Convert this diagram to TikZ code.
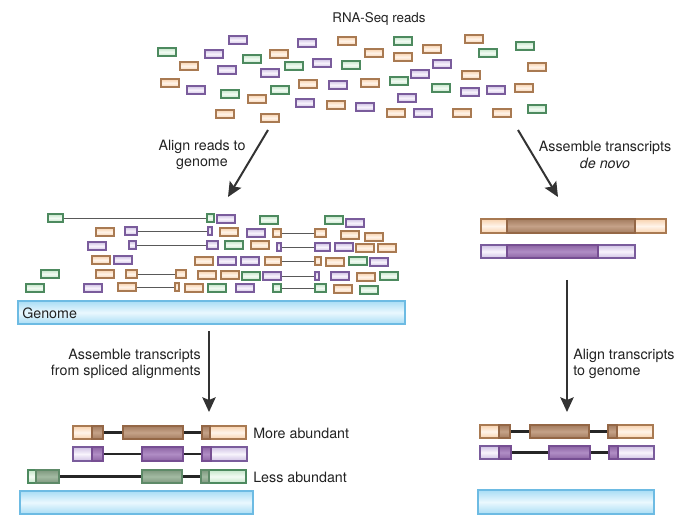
\documentclass[tikz,border=0pt]{standalone}
\usepackage{fontspec}
\setmainfont{TeX Gyre Heros}
\usetikzlibrary{arrows.meta}
\definecolor{oB}{HTML}{A97A52}
\definecolor{oL}{HTML}{F8D2AE}
\definecolor{oW}{HTML}{FFF4EA}
\definecolor{oD}{HTML}{B68A6A}
\definecolor{oDB}{HTML}{946746}
\definecolor{pB}{HTML}{7A5C9C}
\definecolor{pL}{HTML}{CFC1E4}
\definecolor{pW}{HTML}{F8F4FC}
\definecolor{pD}{HTML}{9C70B6}
\definecolor{pDB}{HTML}{764E92}
\definecolor{gB}{HTML}{4D8A5F}
\definecolor{gL}{HTML}{C4E5C9}
\definecolor{gW}{HTML}{F3FBF4}
\definecolor{gD}{HTML}{8CA98C}
\definecolor{gDB}{HTML}{5E8A68}
\definecolor{bB}{HTML}{6DBBE3}
\definecolor{bL}{HTML}{A9DDF5}
\definecolor{bW}{HTML}{EAF8FE}
\definecolor{txt}{HTML}{222222}
\definecolor{arr}{HTML}{333333}
\tikzset{
  x=0.75pt, y=-0.75pt,
  rdO/.style={draw=oB, line width=0.9pt, top color=oL, bottom color=oL, middle color=oW},
  rdP/.style={draw=pB, line width=0.9pt, top color=pL, bottom color=pL, middle color=pW},
  rdG/.style={draw=gB, line width=0.9pt, top color=gL, bottom color=gL, middle color=gW},
  dkO/.style={draw=oDB, line width=0.8pt, top color=oD!90!black, bottom color=oD!90!black, middle color=oD!80!white},
  dkP/.style={draw=pDB, line width=0.8pt, top color=pD!90!black, bottom color=pD!90!black, middle color=pD!80!white},
  dkG/.style={draw=gDB, line width=0.8pt, top color=gD!90!black, bottom color=gD!90!black, middle color=gD!80!white},
  gen/.style={draw=bB, line width=0.8pt, top color=bL, bottom color=bL, middle color=bW},
  spl/.style={draw=black!65, line width=0.6pt},
  intr/.style={draw=black!85, line width=1.8pt},
  bigarrow/.style={draw=arr, line width=1.5pt, -{Stealth[length=11pt,width=10pt,inset=2pt]}},
  lbl/.style={text=txt, font=\fontsize{10.7}{12.5}\selectfont, inner sep=0pt},
}
\newcommand\rO[2]{\path[rdO] (#1,#2) rectangle ++(18,8);}
\newcommand\rP[2]{\path[rdP] (#1,#2) rectangle ++(18,8);}
\newcommand\rG[2]{\path[rdG] (#1,#2) rectangle ++(18,8);}
% spliced read: style, x1, w1, x2, w2, y
\newcommand\splr[6]{%
  \coordinate (sa) at ({#2+#3},{#6+4});
  \coordinate (sb) at (#4,{#6+4});
  \draw[spl] (sa) -- (sb);
  \path[#1] (#2,#6) rectangle ++(#3,8);
  \path[#1] (#4,#6) rectangle ++(#5,8);}
\begin{document}
\begin{tikzpicture}
\useasboundingbox (0,0) rectangle (694,528);
% ---------- top reads ----------
\node[lbl, font=\fontsize{10}{12}\selectfont] (title) at (379,19) {RNA-Seq reads};
\rP{229}{36} \rG{158}{48} \rP{205}{50} \rG{243}{55} \rO{270}{50} \rP{298}{39}
\rO{338}{37} \rO{180}{62} \rP{218}{66} \rP{261}{69} \rG{285}{62} \rP{313}{59}
\rG{342}{61} \rO{161}{79} \rP{187}{86} \rG{221}{90} \rO{248}{95} \rG{271}{86}
\rO{299}{80} \rP{329}{81} \rO{216}{110} \rO{261}{114} \rP{296}{99} \rO{327}{101}
\rG{394}{37} \rO{465}{35} \rG{516}{42} \rO{365}{49} \rO{394}{53} \rO{423}{45}
\rG{479}{49} \rP{433}{60} \rP{411}{70} \rO{528}{63} \rO{462}{71} \rO{361}{79}
\rG{390}{77} \rG{432}{84} \rP{461}{88} \rP{487}{86} \rO{515}{84} \rP{398}{94}
\rP{356}{103} \rO{387}{109} \rP{414}{109} \rO{453}{109} \rO{493}{109} \rG{528}{105}
% ---------- arrows from reads ----------
\coordinate (a1s) at (268,130); \coordinate (a1e) at (228,197);
\coordinate (a2s) at (518,130); \coordinate (a2e) at (558,197);
\draw[bigarrow] (a1s) -- (a1e);
\draw[bigarrow] (a2s) -- (a2e);
\node[lbl, align=center] (l1) at (202,155) {Align reads to\\genome};
\node[lbl, align=center] (l2) at (605,155) {Assemble transcripts\\\textit{de novo}};
% ---------- aligned reads ----------
% row 1
\splr{rdG}{48}{15}{207}{7}{214}
\rP{217}{215} \rG{260}{216} \rG{325}{216} \rP{346}{219}
% row 2
\rO{96}{228}
\splr{rdP}{125}{12}{208}{4}{227}
\rO{220}{228} \rP{247}{229}
\splr{rdO}{273}{8}{315}{11}{229}
\rO{341}{231} \rO{365}{233}
% row 3
\rP{88}{242}
\splr{rdP}{129}{7}{207}{11}{241}
\rG{225}{241} \rO{251}{241}
\splr{rdP}{277}{4}{315}{15}{243}
\rP{335}{243} \rO{356}{244} \rO{378}{244}
% row 4
\rO{92}{256} \rP{114}{256} \rO{195}{257} \rP{218}{257} \rP{241}{257}
\splr{rdO}{265}{16}{315}{6}{257}
\rO{326}{258} \rG{349}{257} \rP{370}{258}
% row 5
\rG{41}{270} \rO{96}{270}
\splr{rdO}{126}{11}{176}{10}{270}
\rO{198}{271} \rO{221}{271} \rG{242}{272}
\splr{rdP}{263}{18}{315}{4}{272}
\rP{331}{272} \rO{357}{273} \rG{380}{272}
% row 6
\rG{26}{284} \rP{84}{284}
\splr{rdO}{118}{18}{175}{4}{283}
\rO{185}{284} \rG{208}{284} \rP{236}{284}
\splr{rdG}{273}{8}{315}{11}{284}
\rO{334}{285} \rG{360}{286}
% genome bar
\path[gen] (18,301) rectangle (405,324);
\node[lbl, anchor=west] (genome) at (22,313) {Genome};
% ---------- de novo transcripts ----------
\path[rdO] (481,219) rectangle (666,233);
\path[dkO] (507,219) rectangle (635,233);
\path[rdP] (481,245) rectangle (635,258);
\path[dkP] (507,245) rectangle (598,258);
% ---------- vertical arrows ----------
\coordinate (a3s) at (209,331); \coordinate (a3e) at (209,412);
\coordinate (a4s) at (567,280); \coordinate (a4e) at (567,412);
\draw[bigarrow] (a3s) -- (a3e);
\draw[bigarrow] (a4s) -- (a4e);
\node[lbl, align=right, anchor=east] (l3) at (201,364) {Assemble transcripts\\from spliced alignments};
\node[lbl, align=left, anchor=west] (l4) at (573,364) {Align transcripts\\to genome};
% ---------- bottom left transcripts ----------
% orange
\coordinate (o1a) at (103,432.5); \coordinate (o1b) at (123,432.5);
\coordinate (o1c) at (183,432.5); \coordinate (o1d) at (202,432.5);
\draw[intr] (o1a) -- (o1b); \draw[intr] (o1c) -- (o1d);
\path[rdO] (73,426) rectangle (103,439); \path[dkO] (92,426) rectangle (103,439);
\path[dkO] (123,426) rectangle (183,439);
\path[rdO] (202,426) rectangle (246,439); \path[dkO] (202,426) rectangle (210,439);
\node[lbl, anchor=west] (more) at (253,433) {More abundant};
% purple
\coordinate (p1a) at (103,454); \coordinate (p1b) at (142,454);
\coordinate (p1c) at (183,454); \coordinate (p1d) at (202,454);
\draw[intr] (p1a) -- (p1b); \draw[intr] (p1c) -- (p1d);
\path[rdP] (73,447) rectangle (103,461); \path[dkP] (92,447) rectangle (103,461);
\path[dkP] (142,447) rectangle (183,461);
\path[rdP] (202,447) rectangle (247,461); \path[dkP] (202,447) rectangle (211,461);
% green
\coordinate (g1a) at (59,476.5); \coordinate (g1b) at (142,476.5);
\coordinate (g1c) at (182,476.5); \coordinate (g1d) at (201,476.5);
\draw[intr] (g1a) -- (g1b); \draw[intr] (g1c) -- (g1d);
\path[rdG] (28,470) rectangle (59,483); \path[dkG] (36,470) rectangle (59,483);
\path[dkG] (142,470) rectangle (182,483);
\path[rdG] (201,470) rectangle (246,483); \path[dkG] (201,470) rectangle (209,483);
\node[lbl, anchor=west] (less) at (253,477) {Less abundant};
\path[gen] (20,491) rectangle (253,514);
% ---------- bottom right transcripts ----------
\coordinate (o2a) at (510,431.5); \coordinate (o2b) at (530,431.5);
\coordinate (o2c) at (589,431.5); \coordinate (o2d) at (608,431.5);
\draw[intr] (o2a) -- (o2b); \draw[intr] (o2c) -- (o2d);
\path[rdO] (480,425) rectangle (510,438); \path[dkO] (499,425) rectangle (510,438);
\path[dkO] (530,425) rectangle (589,438);
\path[rdO] (608,425) rectangle (653,438); \path[dkO] (608,425) rectangle (617,438);
\coordinate (p2a) at (511,452.5); \coordinate (p2b) at (549,452.5);
\coordinate (p2c) at (590,452.5); \coordinate (p2d) at (609,452.5);
\draw[intr] (p2a) -- (p2b); \draw[intr] (p2c) -- (p2d);
\path[rdP] (480,446) rectangle (511,459); \path[dkP] (499,446) rectangle (511,459);
\path[dkP] (549,446) rectangle (590,459);
\path[rdP] (609,446) rectangle (654,459); \path[dkP] (609,446) rectangle (618,459);
\path[gen] (478,490) rectangle (654,514);
\end{tikzpicture}
\end{document}
